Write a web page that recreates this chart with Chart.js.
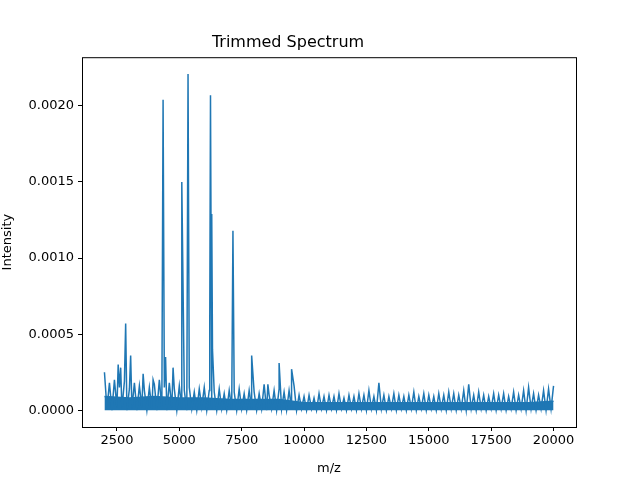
<!DOCTYPE html>
<html><head><meta charset="utf-8">
<script src="https://cdn.jsdelivr.net/npm/chart.js@4/dist/chart.umd.min.js"></script>
<style>html,body{margin:0;padding:0;background:#fff}#w{width:640px;height:480px}</style>
</head><body><div id="w"><canvas id="c"></canvas></div>
<script>
// Regular grid m/z 2000..20000 step 100, intensity in units of 1e-5
const gridStart = 2000, gridStep = 100;
const gridIntensity = [
25,1,18,0,20,2,15,1,19,0,
14,1,18,0,16,2,13,0,15,1,
17,0,20,1,15,0,18,2,14,0,
16,1,13,0,15,1,12,0,14,2,
15,0,13,1,12,0,14,1,11,0,
13,1,12,0,14,1,11,0,13,1,
12,0,11,1,17,0,10,1,13,0,
14,1,12,0,13,1,16,0,10,1,
9,0,10,1,8,0,11,1,9,0,
10,1,9,0,11,1,8,0,10,1,
9,0,11,1,10,0,13,1,9,0,
18,1,10,0,9,1,11,0,10,1,
9,0,10,1,12,0,9,1,11,0,
10,1,9,0,11,1,10,0,12,1,
11,0,10,1,13,0,17,1,10,0,
12,1,10,0,9,1,11,0,10,1,
11,0,9,1,12,0,10,1,13,0,
15,1,11,0,10,1,13,0,14,1,
16];
// dense noise floor (solid band), every 1000 m/z, units 1e-5
const floorMz = [2000,3000,4000,5000,6000,7000,8000,9000,10000,11000,12000,13000,14000,15000,16000,17000,18000,19000,20000];
const floorInt = [9,8,9,8,8,7,7,7,5,5,5,5,5,5,5,5,5,5,6];
const peakMz =  [2550,2650,2850,3050,3550,3950,4350,4450,4750,5100,5350,6220,6250,6300,6330,7150,7900,8550,9000,9500];
const peakInt = [30,  28,  57,  36,  24,  20,  204, 35,  28,  150, 221, 55,  207, 129, 40,  118, 36,  17,  31,  27];
const xTicks = [2500,5000,7500,10000,12500,15000,17500,20000];
const yTicks = [0,0.0005,0.0010,0.0015,0.0020];

const pts = gridIntensity.map((v,i)=>({x:gridStart+i*gridStep,y:v*1e-5}));
peakMz.forEach((m,i)=>pts.push({x:m,y:peakInt[i]*1e-5}));
pts.sort((a,b)=>a.x-b.x);
const floorPts = floorMz.map((m,i)=>({x:m,y:floorInt[i]*1e-5}));

const F = "DejaVu Sans";
const frame = {id:'frame',afterDatasetsDraw(ch){const a=ch.chartArea,c=ch.ctx;c.save();c.strokeStyle='#000';c.lineWidth=1;c.strokeRect(a.left+0.5,a.top+0.5,a.right-a.left,a.bottom-a.top);c.restore();}};
new Chart(document.getElementById('c'),{
type:'line',
data:{datasets:[
 {data:pts,borderColor:'#1f77b4',borderWidth:1.5,pointRadius:0,tension:0,fill:false},
 {data:floorPts,borderColor:'#1f77b4',backgroundColor:'#1f77b4',borderWidth:1.5,pointRadius:0,tension:0,fill:'origin'}
]},
options:{responsive:true,maintainAspectRatio:false,animation:false,
layout:{padding:{left:0,right:64,top:0,bottom:0}},
plugins:{legend:{display:false},tooltip:{enabled:false},filler:{propagate:false},
 title:{display:true,text:'Trimmed Spectrum',color:'#000',font:{family:F,size:16,weight:'normal',lineHeight:1.2},padding:{top:33,bottom:5}}},
scales:{
 x:{type:'linear',min:1100,max:20900,
  afterBuildTicks(s){s.ticks=xTicks.map(v=>({value:v}));},
  afterFit(s){s.height=53;},
  ticks:{color:'#000',font:{family:F,size:13},maxRotation:0,padding:2,callback:v=>String(v)},
  grid:{drawOnChartArea:false,tickLength:4,color:'#000'},border:{display:false},
  title:{display:true,text:'m/z',color:'#000',font:{family:F,size:13},padding:{top:0}}},
 y:{min:-0.00011,max:0.00232,
  afterBuildTicks(s){s.ticks=yTicks.map(v=>({value:v}));},
  afterFit(s){s.width=82;},
  ticks:{color:'#000',font:{family:F,size:13},padding:4,callback:v=>v.toFixed(4)},
  grid:{drawOnChartArea:false,tickLength:4,color:'#000'},border:{display:false},
  title:{display:true,text:'Intensity',color:'#000',font:{family:F,size:13},padding:{top:0,bottom:4}}}
}},
plugins:[frame]});
</script></body></html>
